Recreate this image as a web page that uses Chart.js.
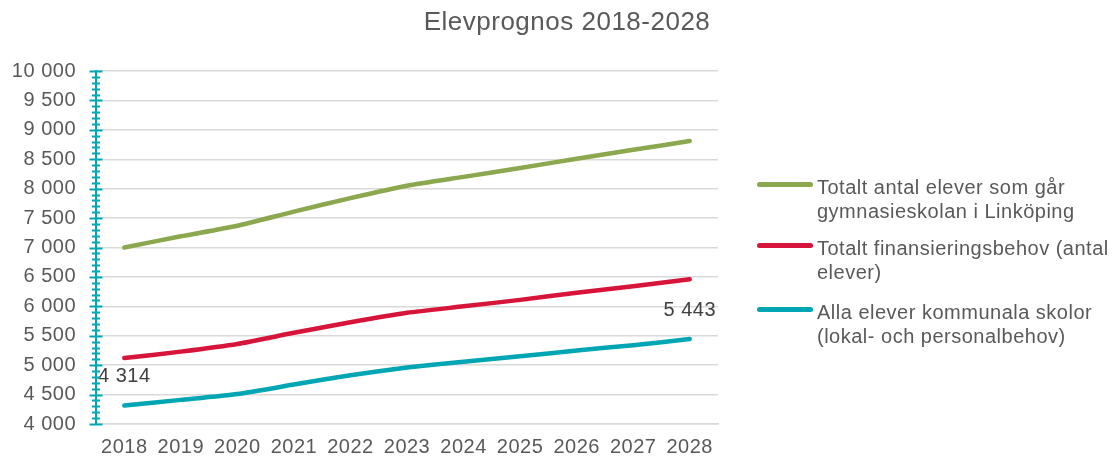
<!DOCTYPE html>
<html>
<head>
<meta charset="utf-8">
<script src="https://cdn.jsdelivr.net/npm/chart.js@4"></script>
<style>
  html, body { margin: 0; padding: 0; background: #fff; }
  #wrap { position: relative; width: 1117px; height: 459px; }
  #legend { position: absolute; left: 757px; top: 175px; font-family: "Liberation Sans", Arial, sans-serif; font-size: 20px; letter-spacing: 0.5px; color: #595959; }
  .item { position: absolute; left: 0; padding-left: 60px; line-height: 24px; width: 300px; }
  .mark { position: absolute; left: 0; top: 7px; width: 56px; height: 5px; border-radius: 3px; }
</style>
</head>
<body>
<div id="wrap">
  <canvas id="grafico" width="1117" height="459"></canvas>
  <div id="legend"></div>
</div>
<script>
const ar = ['2018', '2019', '2020', '2021', '2022', '2023', '2024', '2025', '2026', '2027', '2028'];
const totaltAntal = [7000, 7190, 7370, 7610, 7840, 8050, 8200, 8350, 8510, 8660, 8810];
const finansiering = [5120, 5230, 5360, 5550, 5730, 5890, 6000, 6110, 6230, 6340, 6460];
const kommunala = [4314, 4410, 4510, 4670, 4830, 4960, 5060, 5150, 5250, 5340, 5443];
const serieNamn = [
  'Totalt antal elever som går gymnasieskolan i Linköping',
  'Totalt finansieringsbehov (antal elever)',
  'Alla elever kommunala skolor (lokal- och personalbehov)'
];
const farger = ['#8BA84E', '#D7143A', '#00A6B4'];
const etiketter = [0, 10]; // index i kommunala-serien som får värdeetikett

const fmt = v => String(v).replace(/\B(?=(\d{3})+(?!\d))/g, ' ');
const FONT = '"Liberation Sans", Arial, sans-serif';

// lite bredare text, som i originalet
const sparning = {
  id: 'sparning',
  beforeDraw(chart) { chart.ctx.letterSpacing = '0.5px'; }
};

const titel = {
  id: 'titel',
  afterDraw(chart) {
    const c = chart.ctx;
    c.save();
    c.font = '26px ' + FONT;
    c.fillStyle = '#595959';
    c.textAlign = 'center';
    c.textBaseline = 'middle';
    c.fillText('Elevprognos 2018-2028', 567, 23);
    c.restore();
  }
};

const axelStreck = {
  id: 'axelStreck',
  afterDraw(chart) {
    const y = chart.scales.y;
    const x0 = chart.chartArea.left;
    const c = chart.ctx;
    c.save();
    c.strokeStyle = '#00A6B4';
    c.lineWidth = 2;
    for (let v = y.min; v <= y.max; v += 100) {
      const p = Math.round(y.getPixelForValue(v)) + 0.5;
      const halv = v % 500 === 0 ? 6.5 : 4;
      c.beginPath();
      c.moveTo(x0 - halv, p);
      c.lineTo(x0 + halv, p);
      c.stroke();
    }
    c.restore();
  }
};

const varden = {
  id: 'varden',
  afterDatasetsDraw(chart) {
    const meta = chart.getDatasetMeta(2);
    const c = chart.ctx;
    c.save();
    c.font = '20px ' + FONT;
    c.fillStyle = '#404040';
    c.textAlign = 'center';
    c.textBaseline = 'middle';
    etiketter.forEach(i => {
      const pt = meta.data[i];
      c.fillText(fmt(kommunala[i]), pt.x, pt.y - 29);
    });
    c.restore();
  }
};

const serier = [totaltAntal, finansiering, kommunala];

new Chart(document.getElementById('grafico').getContext('2d'), {
  type: 'line',
  data: {
    labels: ar,
    datasets: serier.map((d, i) => ({
      label: serieNamn[i],
      data: d,
      borderColor: farger[i],
      backgroundColor: farger[i],
      borderWidth: 4.5,
      borderCapStyle: 'round',
      pointRadius: 0,
      tension: 0.2
    }))
  },
  options: {
    responsive: false,
    animation: false,
    events: [],
    layout: { padding: { left: 0, right: 399, top: 71, bottom: 0 } },
    plugins: { legend: { display: false }, title: { display: false }, tooltip: { enabled: false } },
    scales: {
      x: {
        offset: true,
        afterFit(s) { s.height = 35; },
        grid: { display: false, drawTicks: false },
        border: { display: true, color: '#D9D9D9', width: 1.5 },
        ticks: { color: '#595959', font: { family: FONT, size: 20 }, padding: 11, maxRotation: 0, autoSkip: false }
      },
      y: {
        min: 4000,
        max: 10000,
        afterFit(s) { s.width = 96; },
        grid: { color: '#D9D9D9', lineWidth: 1.5, drawTicks: false },
        border: { display: true, color: '#00A6B4', width: 2 },
        ticks: { stepSize: 500, color: '#595959', font: { family: FONT, size: 20 }, padding: 20, callback: v => fmt(v) }
      }
    }
  },
  plugins: [sparning, titel, axelStreck, varden]
});

const leg = document.getElementById('legend');
const toppar = [0, 61, 125];
serieNamn.forEach((namn, i) => {
  const el = document.createElement('div');
  el.className = 'item';
  el.style.top = toppar[i] + 'px';
  el.innerHTML = '<span class="mark" style="background:' + farger[i] + '"></span>' + namn;
  leg.appendChild(el);
});
</script>
</body>
</html>
